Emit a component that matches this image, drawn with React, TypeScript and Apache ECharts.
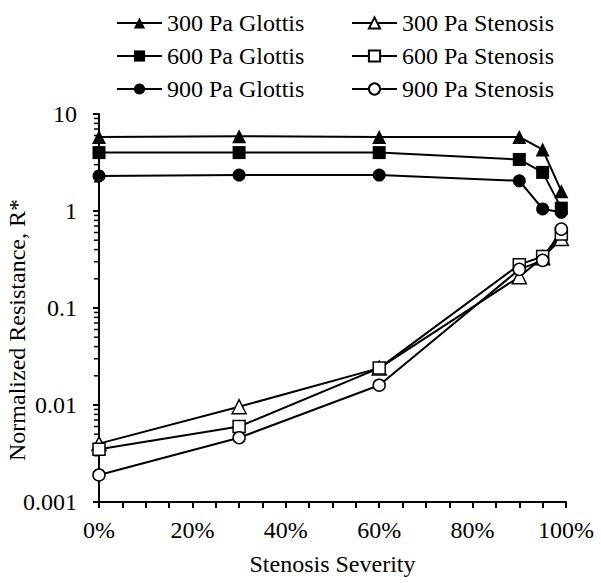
import React, { useEffect, useRef } from "react";
import * as echarts from "echarts";

const severity = [0, 30, 60, 90, 95, 99];
const glottis300 = [5.8, 5.9, 5.8, 5.8, 4.3, 1.6];
const glottis600 = [4.0, 4.0, 4.0, 3.4, 2.5, 1.07];
const glottis900 = [2.3, 2.35, 2.35, 2.05, 1.05, 0.97];
const stenosis300 = [0.004, 0.0096, 0.024, 0.21, 0.33, 0.52];
const stenosis600 = [0.0035, 0.006, 0.024, 0.28, 0.34, 0.58];
const stenosis900 = [0.0019, 0.0046, 0.016, 0.25, 0.31, 0.65];
const decades = [0.001, 0.01, 0.1, 1];
const minorMultipliers = [2, 3, 4, 5, 6, 7, 8, 9];

const FONT = "Liberation Serif";

export default function App() {
  const ref = useRef<HTMLDivElement>(null);
  useEffect(() => {
    if (!ref.current) return;
    const chart = echarts.init(ref.current, null, { renderer: "svg" });
    const pair = (arr: number[]) => severity.map((x, i) => [x, arr[i]]);
    const mk = (name: string, data: number[], symbol: string, filled: boolean, size: number) => ({
      name,
      type: "line",
      data: pair(data),
      symbol,
      symbolSize: size,
      showSymbol: true,
      lineStyle: { color: "#000", width: 2 },
      itemStyle: { color: filled ? "#000" : "#fff", borderColor: "#000", borderWidth: filled ? 0 : 1.5 },
      z: 3,
    });
    const minorTicks = decades.flatMap((d) => minorMultipliers.map((m) => [0, d * m]));
    const txt = { fontFamily: FONT, fontSize: 24, color: "#000" };
    chart.setOption({
      animation: false,
      textStyle: { fontFamily: FONT, color: "#000" },
      grid: { left: 99, right: 35, top: 114, bottom: 81 },
      legend: [
        {
          data: ["300 Pa Glottis", "600 Pa Glottis", "900 Pa Glottis"],
          orient: "vertical",
          left: 111,
          top: 6,
          itemWidth: 45,
          itemHeight: 14,
          itemGap: 9,
          textStyle: { ...txt, lineHeight: 24 },
          selectedMode: false,
        },
        {
          data: ["300 Pa Stenosis", "600 Pa Stenosis", "900 Pa Stenosis"],
          orient: "vertical",
          left: 346,
          top: 6,
          itemWidth: 45,
          itemHeight: 14,
          itemGap: 9,
          textStyle: { ...txt, lineHeight: 24 },
          selectedMode: false,
        },
      ],
      xAxis: {
        type: "value",
        min: 0,
        max: 100,
        interval: 20,
        name: "Stenosis Severity",
        nameLocation: "middle",
        nameGap: 50,
        nameTextStyle: txt,
        axisLine: { lineStyle: { color: "#000", width: 2 } },
        axisTick: { show: true, inside: false, length: 6, lineStyle: { color: "#000", width: 2 } },
        minorTick: { show: true, splitNumber: 4, length: 6, lineStyle: { color: "#000", width: 2 } },
        axisLabel: { ...txt, formatter: "{value}%", margin: 16 },
        splitLine: { show: false },
      },
      yAxis: {
        type: "log",
        logBase: 10,
        min: 0.001,
        max: 10,
        axisLine: { show: true, lineStyle: { color: "#000", width: 2 } },
        axisTick: { show: true, inside: false, length: 6, lineStyle: { color: "#000", width: 2 } },
        axisLabel: {
          ...txt,
          margin: 22,
          formatter: (v: number) => String(+v.toPrecision(3)),
        },
        splitLine: { show: false },
      },
      graphic: [
        {
          type: "text",
          x: 17,
          y: 330,
          rotation: Math.PI / 2,
          style: {
            text: "Normalized Resistance, R*",
            fontFamily: FONT,
            fontSize: 24,
            fill: "#000",
            align: "center",
            verticalAlign: "middle",
          },
        },
      ],
      series: [
        {
          type: "custom",
          name: "minorTicksY",
          data: minorTicks,
          clip: false,
          silent: true,
          z: 1,
          renderItem: (params: any, api: any) => {
            const p = api.coord([0, api.value(1)]);
            return {
              type: "line",
              shape: { x1: p[0] - 5, y1: p[1], x2: p[0], y2: p[1] },
              style: { stroke: "#000", lineWidth: 1.5 },
            };
          },
        },
        mk("300 Pa Glottis", glottis300, "triangle", true, 14),
        mk("600 Pa Glottis", glottis600, "rect", true, 13),
        mk("900 Pa Glottis", glottis900, "circle", true, 13),
        mk("300 Pa Stenosis", stenosis300, "triangle", false, 14),
        mk("600 Pa Stenosis", stenosis600, "rect", false, 12),
        mk("900 Pa Stenosis", stenosis900, "circle", false, 12),
      ],
    });
    return () => chart.dispose();
  }, []);
  return <div ref={ref} style={{ width: 601, height: 583, position: "absolute", left: 0, top: 0 }} />;
}
